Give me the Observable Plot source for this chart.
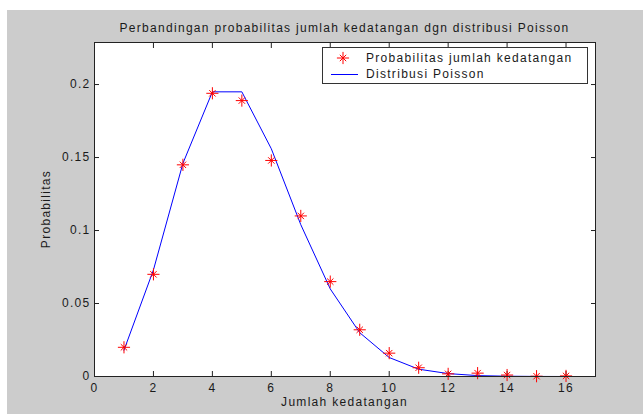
<!DOCTYPE html>
<html>
<head>
<meta charset="utf-8">
<script src="https://cdn.jsdelivr.net/npm/d3@7"></script>
<script src="https://cdn.jsdelivr.net/npm/@observablehq/plot@0.6"></script>
<style>
  body { margin: 0; background: #ffffff; }
  #wrap { position: relative; width: 643px; height: 414px; overflow: hidden;
          font-family: "Liberation Sans", Arial, sans-serif; }
  #bg { position: absolute; left: 7px; top: 10px; right: 0; bottom: 0; background: #cccccc; }
  #chart { position: absolute; left: 0; top: 0; }
  #chart svg text { letter-spacing: 1.3px; }
  .t { position: absolute; font-size: 12px; line-height: 14px; letter-spacing: 1.3px;
       color: #1a1a1a; white-space: nowrap; }
  #title { left: 94px; width: 501px; top: 21px; text-align: center; }
  #xlabel { left: 94px; width: 501px; top: 395px; text-align: center; }
  #ylabel { left: 46px; top: 209px; transform: translate(-50%, -50%) rotate(-90deg); }
  #legend { position: absolute; left: 322px; top: 47px; width: 264px; height: 35px;
            background: #ffffff; border: 1px solid #333333; }
  .lrow { position: absolute; left: 0; height: 16px; width: 264px; }
  .lrow svg { position: absolute; left: 6px; top: 0; }
  .lrow .t { left: 43px; top: 1px; }
</style>
</head>
<body>
<div id="wrap">
  <div id="bg"></div>
  <div id="chart"></div>
  <div class="t" id="title"></div>
  <div class="t" id="xlabel"></div>
  <div class="t" id="ylabel"></div>
  <div id="legend"></div>
</div>
<script>
// ---- data ----
const titleText = "Perbandingan probabilitas jumlah kedatangan dgn distribusi Poisson";
const xLabel = "Jumlah kedatangan";
const yLabel = "Probabilitas";
const seriesNames = ["Probabilitas jumlah kedatangan", "Distribusi Poisson"];

const arrivals = [1, 2, 3, 4, 5, 6, 7, 8, 9, 10, 11, 12, 13, 14, 15, 16];
const observedProb = [0.020, 0.070, 0.145, 0.194, 0.189, 0.148, 0.110, 0.065, 0.032, 0.016, 0.006, 0.0018, 0.0023, 0.001, 0.0002, 0.0004];
const poissonProb = [0.018, 0.073, 0.146, 0.195, 0.195, 0.156, 0.104, 0.060, 0.030, 0.013, 0.005, 0.002, 0.0006, 0.0002, 0.00005, 0.00001];

const xTicks = [0, 2, 4, 6, 8, 10, 12, 14, 16];
const yTicks = [0, 0.05, 0.1, 0.15, 0.2];
const yTickLabels = ["0", "0.05", "0.1", "0.15", "0.2"];

// ---- build ----
const obs = arrivals.map((x, i) => ({x, y: observedProb[i]}));
const poi = arrivals.map((x, i) => ({x, y: poissonProb[i]}));

const axisInk = "#222222";
const textInk = "#1a1a1a";

const chart = Plot.plot({
  width: 643,
  height: 414,
  marginLeft: 94,
  marginRight: 48,
  marginTop: 42,
  marginBottom: 38,
  style: {background: "transparent", fontFamily: "'Liberation Sans', Arial, sans-serif", fontSize: "12px", color: textInk, overflow: "visible"},
  x: {domain: [0, 17]},
  y: {domain: [0, 0.2288]},
  marks: [
    Plot.frame({fill: "white", stroke: null}),
    Plot.axisX({ticks: xTicks, tickSize: -5, tickPadding: 12, tickFormat: d => String(d), label: null, stroke: axisInk, fill: textInk}),
    Plot.axisX({anchor: "top", ticks: xTicks, tickSize: -5, tickFormat: () => "", label: null, stroke: axisInk}),
    Plot.axisY({ticks: yTicks, tickSize: -5, tickPadding: 9, tickFormat: d => yTickLabels[yTicks.indexOf(d)], label: null, stroke: axisInk, fill: textInk}),
    Plot.axisY({anchor: "right", ticks: yTicks, tickSize: -5, tickFormat: () => "", label: null, stroke: axisInk}),
    Plot.line(poi, {x: "x", y: "y", stroke: "#0000ff", strokeWidth: 1}),
    Plot.dot(obs, {x: "x", y: "y", symbol: "plus", r: 4, stroke: "#ff0000", strokeWidth: 1}),
    Plot.dot(obs, {x: "x", y: "y", symbol: "times", r: 3, stroke: "#ff0000", strokeWidth: 1}),
    Plot.frame({stroke: axisInk, strokeWidth: 1})
  ]
});
document.getElementById("chart").appendChild(chart);

document.getElementById("title").textContent = titleText;
document.getElementById("xlabel").textContent = xLabel;
document.getElementById("ylabel").textContent = yLabel;

// legend
const legend = document.getElementById("legend");
const ns = "http://www.w3.org/2000/svg";
seriesNames.forEach((name, i) => {
  const row = document.createElement("div");
  row.className = "lrow";
  row.style.top = (i === 0 ? 2 : 18) + "px";
  const svg = document.createElementNS(ns, "svg");
  svg.setAttribute("width", 30);
  svg.setAttribute("height", 16);
  if (i === 0) {
    const g = d3.select(svg).append("g").attr("transform", "translate(14,8)");
    g.append("path").attr("d", d3.symbol(d3.symbolPlus, Math.PI * 16)()).attr("fill", "none").attr("stroke", "#ff0000");
    g.append("path").attr("d", d3.symbol(d3.symbolTimes, Math.PI * 9)()).attr("fill", "none").attr("stroke", "#ff0000");
  } else {
    d3.select(svg).append("line").attr("x1", 2).attr("x2", 29).attr("y1", 8.5).attr("y2", 8.5).attr("stroke", "#0000ff");
  }
  row.appendChild(svg);
  const t = document.createElement("div");
  t.className = "t";
  t.textContent = name;
  row.appendChild(t);
  legend.appendChild(row);
});
</script>
</body>
</html>
